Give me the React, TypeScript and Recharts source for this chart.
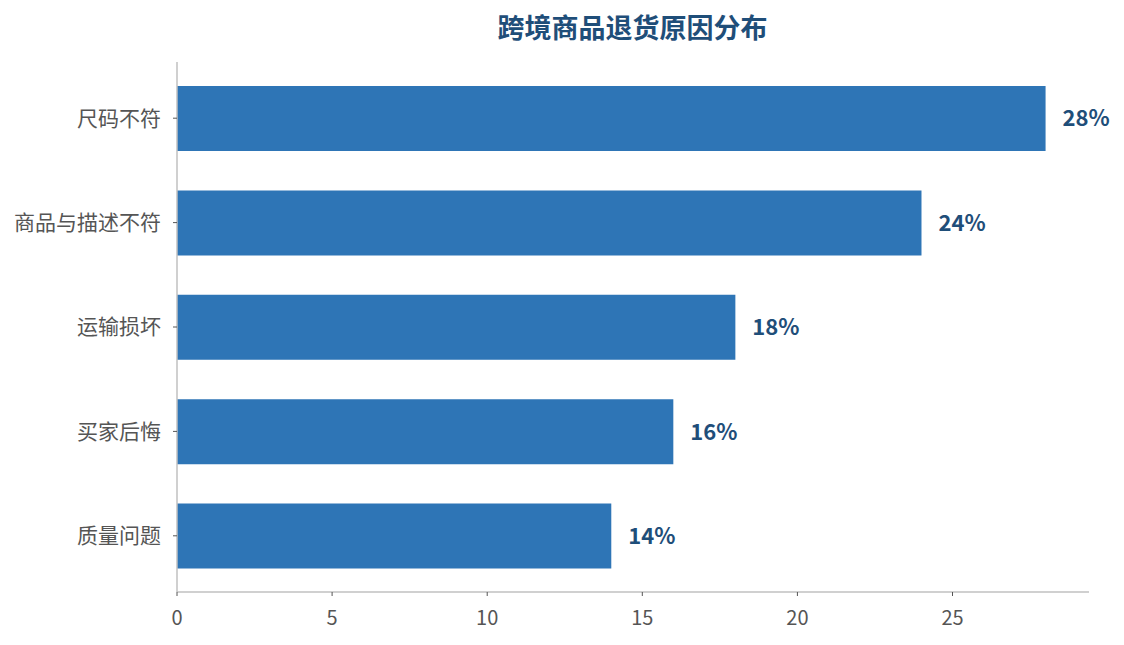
import React from "react";
import { BarChart, Bar, XAxis, YAxis, LabelList } from "recharts";

// 退货原因 & 占比(%)
const reasons = ["尺码不符", "商品与描述不符", "运输损坏", "买家后悔", "质量问题"];
const percents = [28, 24, 18, 16, 14];
const xTicks = [0, 5, 10, 15, 20, 25];

const FONT = '"Noto Sans CJK SC", "Noto Sans", sans-serif';

const data = reasons.map((reason, i) => ({ reason, value: percents[i] }));

const App = () => {
  return (
    <div style={{ position: "relative", width: 1124, height: 645, fontFamily: FONT }}>
      <style>{`body{margin:0}`}</style>
      <div
        style={{
          position: "absolute",
          left: 0,
          width: 1265,
          top: 9,
          textAlign: "center",
          fontSize: 27,
          fontWeight: 700,
          color: "#1f4e79",
          lineHeight: "36px",
        }}
      >
        跨境商品退货原因分布
      </div>
      <BarChart
        width={1124}
        height={645}
        data={data}
        layout="vertical"
        margin={{ top: 62, right: 35, bottom: 0, left: 0 }}
      >
        <XAxis
          type="number"
          domain={[0, 29.4]}
          ticks={xTicks}
          allowDataOverflow
          height={53}
          axisLine={{ stroke: "#c0c0c0", strokeWidth: 1.5 }}
          tickLine={{ stroke: "#555" }}
          tickSize={4}
          tickMargin={15}
          tick={{ fill: "#555", fontSize: 20, fontFamily: FONT }}
        />
        <YAxis
          type="category"
          dataKey="reason"
          width={177}
          padding={{ top: 4, bottom: 4 }}
          axisLine={{ stroke: "#c0c0c0", strokeWidth: 1.5 }}
          tickLine={{ stroke: "#555" }}
          tickSize={4}
          tickMargin={12}
          tick={{ fill: "#555", fontSize: 21, fontFamily: FONT }}
        />
        <Bar dataKey="value" fill="#2e75b6" barSize={65} isAnimationActive={false}>
          <LabelList
            dataKey="value"
            position="right"
            offset={17}
            formatter={(v: any) => `${v}%`}
            style={{ fill: "#1f4e79", fontSize: 22, fontWeight: 700, fontFamily: FONT }}
          />
        </Bar>
      </BarChart>
    </div>
  );
};

export default App;
